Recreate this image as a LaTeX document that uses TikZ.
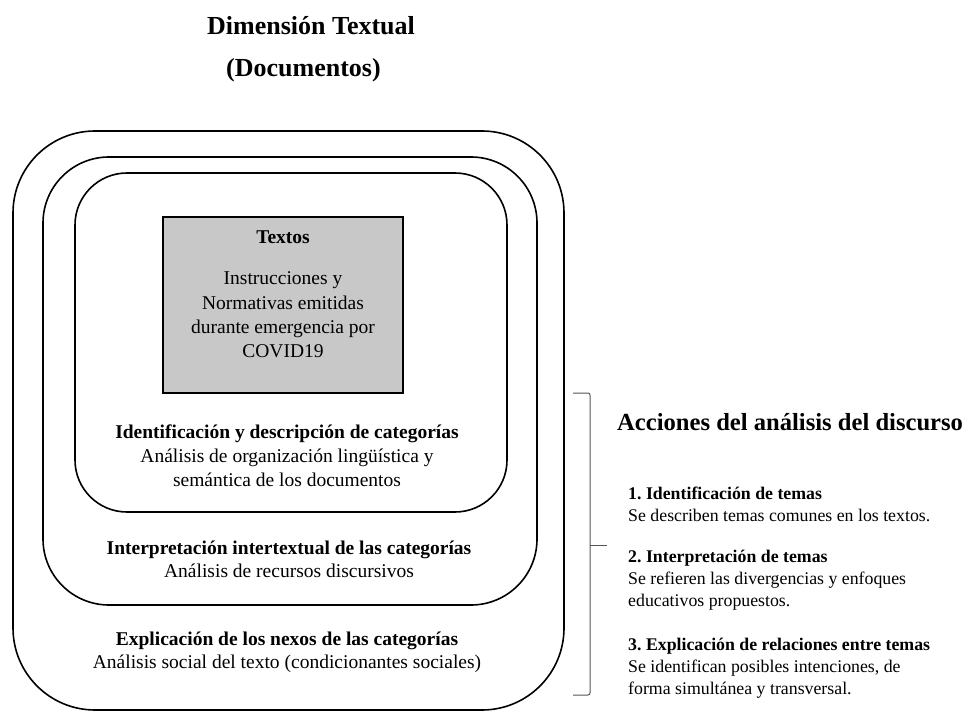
\documentclass[tikz,border=0pt]{standalone}
\usepackage{fontspec}
\setmainfont{Liberation Serif}
\usetikzlibrary{positioning}
\frenchspacing

\definecolor{grisTexto}{HTML}{C8C8C8}
\definecolor{grisLlave}{HTML}{555555}

\tikzset{
  capa/.style={draw, line width=1.6pt, rounded corners=#1, inner sep=0pt},
  caja/.style={draw, line width=1.6pt, fill=grisTexto, inner sep=0pt},
  rotulo/.style={align=center, inner sep=0pt},
  accion/.style={align=left, inner sep=0pt, anchor=west,
    font=\fontsize{17.8}{22}\selectfont},
}

\begin{document}
\begin{tikzpicture}[x=1pt, y=-1pt]
\useasboundingbox (0,0) rectangle (974,711);

% titulo
\node[rotulo, font=\fontsize{26}{30}\selectfont\bfseries] (titulo) at (311,26) {Dimensión Textual};
\node[rotulo, font=\fontsize{26}{30}\selectfont\bfseries] (subtitulo) at (303.5,70) {(Documentos)};

% capas del analisis
\node[capa=82pt, minimum width=551pt, minimum height=579pt] (exterior) at (288.5,420.5) {};
\node[capa=66pt, minimum width=494pt, minimum height=448pt] (medio) at (290,381) {};
\node[capa=52pt, minimum width=432pt, minimum height=339pt] (interior) at (291,342.5) {};
\node[caja, minimum width=240pt, minimum height=176pt] (textos) at (283,305) {};

\node[rotulo, font=\fontsize{19.5}{24.3}\selectfont\bfseries] (textosTit) at (283,237) {Textos};
\node[rotulo, font=\fontsize{19.5}{24.3}\selectfont] (textosDesc) at (283,315)
  {Instrucciones y\\Normativas emitidas\\durante emergencia por\\COVID19};

\node[rotulo, font=\fontsize{19.5}{24}\selectfont] (identif) at (287,456)
  {\textbf{Identificación y descripción de categorías}\\Análisis de organización lingüística y\\semántica de los documentos};
\node[rotulo, font=\fontsize{19.5}{23}\selectfont] (interp) at (289,559)
  {\textbf{Interpretación intertextual de las categorías}\\Análisis de recursos discursivos};
\node[rotulo, font=\fontsize{19.5}{23}\selectfont] (explic) at (287,652)
  {\textbf{Explicación de los nexos de las categorías}\\Análisis social del texto (condicionantes sociales)};

% llave
\coordinate (llaveA) at (573,393);
\coordinate (llaveB) at (590,393);
\coordinate (llaveC) at (590,695);
\coordinate (llaveD) at (573,695);
\coordinate (llaveM) at (590,545);
\coordinate (llaveP) at (607,545);
\draw[grisLlave, line width=1pt, rounded corners=2pt] (llaveA) -- (llaveB) -- (llaveC) -- (llaveD);
\draw[grisLlave, line width=1pt] (llaveM) -- (llaveP);

% acciones
\node[rotulo, anchor=west, font=\fontsize{24.6}{28}\selectfont\bfseries] (acciones) at (617,422) {Acciones del análisis del discurso};
\node[accion] (accion1) at (628,504) {\textbf{1. Identificación de temas}\\Se describen temas comunes en los textos.};
\node[accion] (accion2) at (628,580) {\textbf{2. Interpretación de temas}\\Se refieren las divergencias y enfoques\\educativos propuestos.};
\node[accion] (accion3) at (628,668) {\textbf{3. Explicación de relaciones entre temas}\\Se identifican posibles intenciones, de\\forma simultánea y transversal.};
\end{tikzpicture}
\end{document}
